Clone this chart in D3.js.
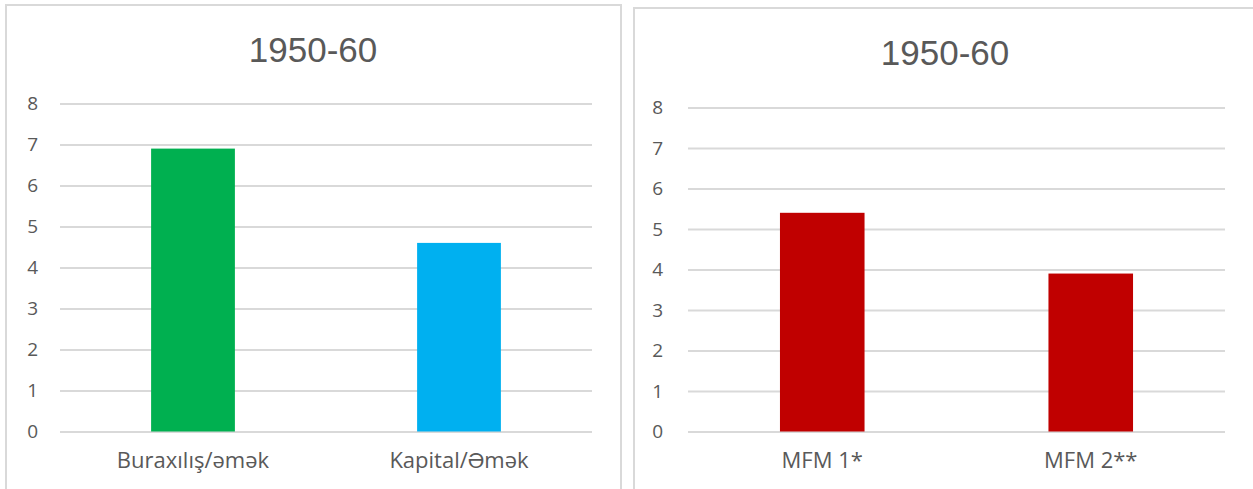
<!DOCTYPE html>
<html>
<head>
<meta charset="utf-8">
<script src="https://cdn.jsdelivr.net/npm/d3@7"></script>
<style>
  html, body { margin: 0; padding: 0; background: #fff; }
  svg { display: block; }
</style>
</head>
<body>
<svg id="chart" width="1253" height="489"></svg>
<script>
// ---- data ----
const title1 = "1950-60";
const categories1 = ["Buraxılış/əmək", "Kapital/Əmək"];
const values1 = [6.9, 4.6];
const colors1 = ["#00b050", "#00b0f0"];

const title2 = "1950-60";
const categories2 = ["MFM 1*", "MFM 2**"];
const values2 = [5.4, 3.9];
const colors2 = ["#c00000", "#c00000"];

const yTicks = [0, 1, 2, 3, 4, 5, 6, 7, 8];

// ---- drawing ----
const svg = d3.select("#chart");

function panel(cfg, title, cats, vals, cols) {
  const g = svg.append("g");
  g.append("rect")
    .attr("x", cfg.bx).attr("y", cfg.by)
    .attr("width", cfg.bw).attr("height", cfg.bh)
    .attr("fill", "#fff").attr("stroke", "#d9d9d9").attr("stroke-width", 2);

  g.append("text")
    .attr("x", cfg.tx).attr("y", cfg.ty)
    .attr("text-anchor", "middle")
    .attr("font-family", "Liberation Sans, Arial, sans-serif")
    .attr("font-size", 35)
    .attr("fill", "#595959")
    .text(title);

  const y = d3.scaleLinear().domain([0, 8]).range([cfg.y0, cfg.y1]);
  const x = d3.scaleBand().domain(cats).range([cfg.x0, cfg.x1])
    .paddingInner(0.685).paddingOuter(0.3425);

  const yAxis = d3.axisLeft(y).tickValues(yTicks)
    .tickSize(-(cfg.x1 - cfg.x0)).tickPadding(cfg.x0 - cfg.labR)
    .tickFormat(d3.format("d"));
  const ya = g.append("g").attr("transform", `translate(${cfg.x0},0)`).call(yAxis);
  ya.select(".domain").remove();
  ya.selectAll("line").attr("stroke", "#d9d9d9").attr("stroke-width", 2);
  ya.selectAll("text")
    .attr("font-family", "Open Sans, Liberation Sans, sans-serif")
    .attr("font-size", 19).attr("fill", "#595959");

  g.selectAll("rect.bar").data(vals).join("rect")
    .attr("class", "bar")
    .attr("x", (d, i) => x(cats[i]))
    .attr("width", x.bandwidth())
    .attr("y", d => y(d))
    .attr("height", d => y(0) - y(d))
    .attr("fill", (d, i) => cols[i]);

  const xAxis = d3.axisBottom(x).tickSize(0).tickPadding(21);
  const xa = g.append("g").attr("transform", `translate(0,${cfg.y0})`).call(xAxis);
  xa.select(".domain").remove();
  xa.selectAll("text")
    .attr("font-family", "Open Sans, Liberation Sans, sans-serif")
    .attr("font-size", 22).attr("fill", "#595959");
}

panel({bx: 6, by: 5, bw: 615, bh: 500, tx: 313, ty: 62,
       x0: 60, x1: 592, y0: 431.5, y1: 103.5, labR: 38},
      title1, categories1, values1, colors1);
panel({bx: 634, by: 8, bw: 630, bh: 500, tx: 945, ty: 65,
       x0: 688, x1: 1225, y0: 431.5, y1: 107.5, labR: 663},
      title2, categories2, values2, colors2);
</script>
</body>
</html>
